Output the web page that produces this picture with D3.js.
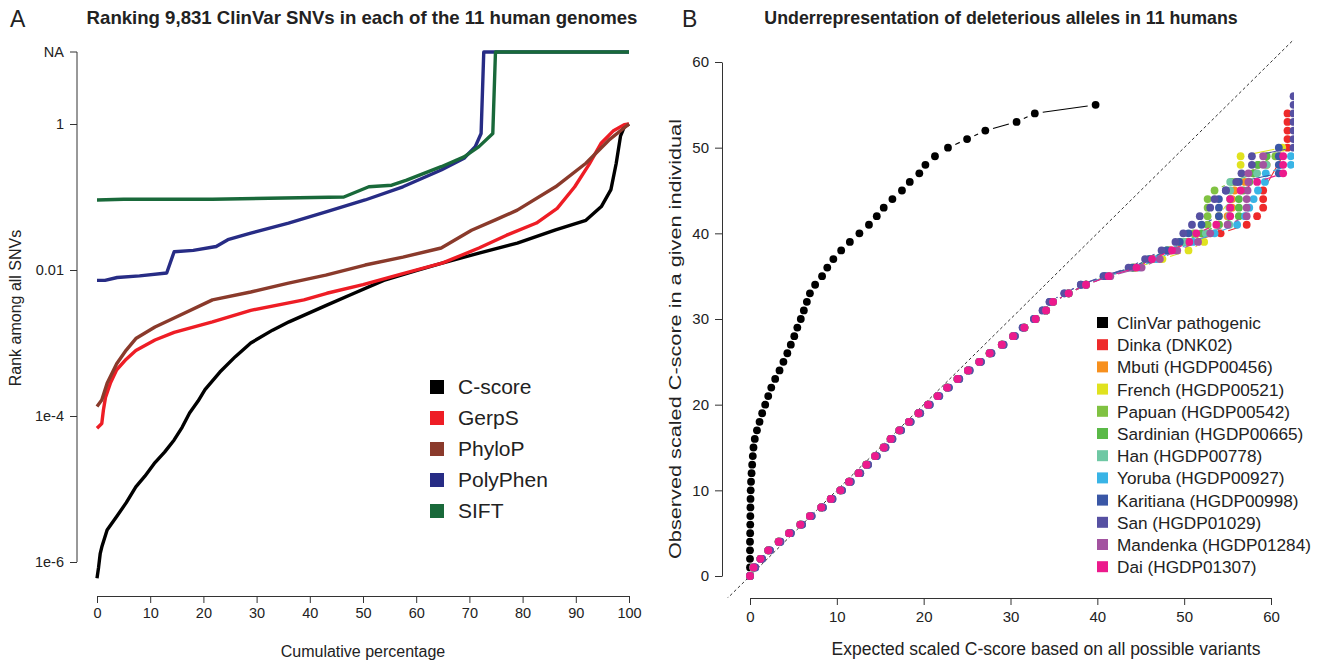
<!DOCTYPE html>
<html lang="en">
  <head>
    <meta charset="UTF-8" />
    <title>ClinVar SNV ranking and deleterious alleles</title>
    <script src="https://cdn.jsdelivr.net/npm/d3@7/dist/d3.min.js"></script>
    <style>
      body {
        margin: 0;
        background: #fff;
      }
      svg {
        font-family: "Liberation Sans", Arial, sans-serif;
      }
      .axis path,
      .axis line {
        stroke: #333;
      }
      .axis text {
        fill: #222;
      }
    </style>
  </head>
  <body>
    <svg width="1339" height="662"></svg>
    <script>
      // ---- panel A data: [cumulative percentage, rank] (null = NA)
      const cscore = [
        [0, 6.0e-7], [0.3, 8.5e-7], [0.6, 1.3e-6], [0.9, 1.6e-6], [1.9, 2.75e-6],
        [3.7, 4.2e-6], [5.5, 6.5e-6], [7.3, 1.07e-5], [9, 1.5e-5], [10.9, 2.3e-5],
        [12.7, 3.2e-5], [14.5, 4.7e-5], [16, 7.0e-5], [17.4, 1.1e-4], [19, 1.6e-4],
        [20.3, 2.3e-4], [23.1, 4.0e-4], [26, 6.5e-4], [28.9, 1.0e-3], [33, 1.5e-3],
        [36.1, 1.95e-3], [43.2, 3.3e-3], [48, 4.7e-3], [53.9, 7.2e-3], [60, 9.8e-3],
        [64.7, 1.23e-2], [71.8, 1.7e-2], [79, 2.34e-2], [86.2, 3.55e-2], [91.9, 4.8e-2],
        [94.8, 7.4e-2], [96.6, 0.126], [97.6, 0.29], [98.4, 0.68], [99.1, 0.91], [100, 1],
      ];
      const gerps = [
        [0, 6.8e-5], [0.9, 7.9e-5], [1.2, 1.2e-4], [1.6, 1.8e-4], [2.5, 2.8e-4],
        [3.7, 4.3e-4], [5.5, 6.0e-4], [7.3, 7.9e-4], [10.9, 1.1e-3], [14.5, 1.4e-3],
        [21.7, 1.95e-3], [28.9, 2.8e-3], [38.9, 3.9e-3], [43.2, 4.8e-3], [50, 6.3e-3],
        [57.5, 8.9e-3], [65, 1.25e-2], [71.8, 2.0e-2], [77, 3.0e-2], [82.6, 4.4e-2],
        [86.5, 7.0e-2], [89.8, 0.138], [92.5, 0.28], [94.8, 0.55], [97, 0.8],
        [99.1, 0.98], [100, 1],
      ];
      const phylop = [
        [0, 1.35e-4], [0.9, 1.66e-4], [1.9, 2.8e-4], [3.7, 5.2e-4], [5.5, 8.0e-4],
        [7.3, 1.15e-3], [10.9, 1.66e-3], [14.5, 2.2e-3], [21.7, 3.9e-3], [28.9, 5.0e-3],
        [36, 6.6e-3], [43, 8.5e-3], [50.4, 1.17e-2], [57.5, 1.5e-2], [64.7, 2.0e-2],
        [70.4, 3.5e-2], [75, 4.9e-2], [79, 6.6e-2], [86.2, 0.138], [91.9, 0.29],
        [96.2, 0.6], [100, 1],
      ];
      const polyphen = [
        [0, 7.2e-3], [1.5, 7.2e-3], [3.8, 7.9e-3], [8, 8.3e-3], [13.1, 9.1e-3],
        [14.5, 1.78e-2], [18.1, 1.86e-2], [22.4, 2.1e-2], [24.6, 2.6e-2], [28.9, 3.2e-2],
        [36, 4.4e-2], [43.2, 6.3e-2], [50.4, 9.1e-2], [57.5, 0.138], [64.7, 0.234],
        [69, 0.34], [71.1, 0.49], [72.2, 0.74], [72.7, null], [100, null],
      ];
      const sift = [
        [0, 0.091], [5, 0.093], [21.7, 0.093], [46.4, 0.1], [51.1, 0.138],
        [55.4, 0.145], [58.2, 0.17], [64.7, 0.26], [69, 0.355], [71.8, 0.49],
        [74.4, 0.74], [74.9, null], [100, null],
      ];
      const methodNames = ["C-score", "GerpS", "PhyloP", "PolyPhen", "SIFT"];
      const methodColors = ["#000000", "#ee1d25", "#8a3a2b", "#272c85", "#19693a"];
      const pctTicks = [0, 10, 20, 30, 40, 50, 60, 70, 80, 90, 100];
      const rankTicks = [1e-6, 1e-4, 0.01, 1];
      const rankTickLabels = ["1e-6", "1e-4", "0.01", "1"];

      // ---- panel B data
      const clinvarObserved = [
        1, 2, 3, 4, 5, 6, 7, 8, 9, 10, 11, 12, 13, 14, 15, 16, 17, 18, 19, 20,
        21, 22, 23, 24, 25, 26, 27, 28, 29, 30, 31, 32, 33, 34, 35, 36, 37, 38,
        39, 40, 41, 42, 43, 44, 45, 46, 47, 48, 49, 50, 51, 52, 53, 54, 55,
      ];
      const clinvarExpected = [
        0, 0, 0, 0, 0.02, 0.03, 0.04, 0.05, 0.06, 0.08, 0.12, 0.18, 0.25, 0.32,
        0.4, 0.55, 0.8, 1.1, 1.4, 1.75, 2.1, 2.45, 2.9, 3.4, 3.85, 4.3, 4.7, 5.1,
        5.45, 5.85, 6.2, 6.55, 6.9, 7.5, 8.3, 8.9, 9.6, 10.5, 11.5, 12.6, 13.7,
        14.6, 15.4, 16.4, 17.5, 18.4, 19.5, 20.2, 21.3, 22.8, 25.0, 27.1, 30.7,
        32.8, 39.8,
      ];
      // shared lower part (observed 0..34) of the individual curves
      const lowerObserved = [
        0, 1, 2, 3, 4, 5, 6, 7, 8, 9, 10, 11, 12, 13, 14, 15, 16, 17, 18, 19,
        20, 21, 22, 23, 24, 25, 26, 27, 28, 29, 30, 31, 32, 33, 34,
      ];
      const lowerExpected = [
        0, 0.4, 1.2, 2.1, 3.3, 4.5, 5.8, 6.9, 8.2, 9.3, 10.4, 11.4, 12.5, 13.4,
        14.4, 15.4, 16.2, 17.2, 18.3, 19.4, 20.5, 21.6, 22.7, 23.9, 25.1, 26.4,
        27.6, 29.0, 30.3, 31.6, 32.9, 34.1, 34.9, 36.7, 38.7,
      ];
      const lowerExpectedAlt = [
        0, 0.6, 1.4, 2.3, 3.5, 4.7, 6.0, 7.1, 8.4, 9.5, 10.6, 11.6, 12.7, 13.6,
        14.6, 15.6, 16.4, 17.4, 18.5, 19.6, 20.7, 21.8, 22.9, 24.1, 25.3, 26.6,
        27.8, 29.2, 30.5, 31.4, 32.7, 33.7, 34.5, 36.2, 38.1,
      ];
      // upper parts: [expected, observed]
      const dinkaUpper = [[41.2,35],[44.2,36],[46.4,37],[48.4,38],[50.4,39],[54.2,40],[57.2,41],[58.4,42],[59.1,43],[59.1,44],[59.1,45],[61.9,50],[61.9,51],[61.9,52],[61.9,53],[61.9,54]];
      const mbutiUpper = [[41.2,35],[44.3,36],[46.4,37],[48.5,38],[50.5,39],[52.5,40],[54.0,41],[55.0,42],[55.5,43],[55.5,44],[55.8,45],[57.0,46],[58.0,47],[59.5,48],[61.0,49]];
      const frenchUpper = [[41.0,35],[44.5,36],[47.5,37],[50.5,38],[52.3,39],[53.0,40],[54.0,42],[55.3,44],[56.0,46],[56.5,48],[56.5,49],[61.3,50]];
      const papuanUpper = [[41.0,35],[44.0,36],[46.0,37],[48.0,38],[49.5,39],[51.1,40],[52.7,41],[52.7,42],[52.7,43],[52.7,44],[53.5,45],[55.5,46],[58.0,47],[58.5,48],[60.5,49]];
      const sardinianUpper = [[41.1,35],[44.2,36],[46.2,37],[48.2,38],[50.0,39],[52.0,40],[54.0,41],[56.3,42],[56.3,43],[56.3,44],[56.8,45],[57.5,46],[58.0,47],[58.5,48],[59.5,49]];
      const hanUpper = [[41.2,35],[44.2,36],[46.0,37],[48.0,38],[50.0,39],[52.5,40],[55.2,41],[55.2,42],[55.2,43],[55.3,44],[55.3,45],[55.3,46],[58.4,47],[59.5,48]];
      const yorubaUpper = [[41.0,35],[44.8,36],[46.8,37],[49.0,38],[51.0,39],[53.5,40],[56.1,41],[57.0,42],[57.5,43],[58.0,44],[58.5,45],[59.3,46],[59.4,47],[62.3,48],[62.3,49]];
      const karitianaUpper = [[40.7,35],[44.0,36],[46.0,37],[48.0,38],[49.5,39],[50.5,40],[52.0,41],[54.0,42],[54.0,43],[54.0,44],[54.8,45],[56.3,46],[60.9,47],[60.9,48],[60.9,49],[60.9,50]];
      const sanUpper = [[40.8,35],[43.6,36],[45.5,37],[47.4,38],[49.0,39],[49.9,40],[50.9,41],[51.8,42],[53.0,43],[53.5,44],[54.8,45],[56.0,46],[56.6,47],[57.8,48],[57.8,49],[62.6,50],[62.6,51],[62.6,52],[62.6,53],[62.6,54],[62.6,55],[62.6,56]];
      const mandenkaUpper = [[41.5,35],[45.1,36],[47.2,37],[49.2,38],[51.6,39],[53.0,40],[55.0,41],[57.2,42],[57.2,43],[57.2,44],[57.3,45],[57.4,46],[57.4,47],[59.1,48],[59.1,49]];
      const daiUpper = [[41.3,35],[44.5,36],[46.3,37],[48.6,38],[50.6,39],[51.4,40],[53.7,41],[55.3,42],[55.3,43],[55.3,44],[56.5,45],[58.4,46],[61.4,47],[61.4,48],[61.4,49]];

      const individuals = [
        { name: "Dinka (DNK02)", color: "#ee2a2a", upper: dinkaUpper, alt: false },
        { name: "Mbuti (HGDP00456)", color: "#f7901e", upper: mbutiUpper, alt: false },
        { name: "French (HGDP00521)", color: "#e0e21f", upper: frenchUpper, alt: false },
        { name: "Papuan (HGDP00542)", color: "#80c242", upper: papuanUpper, alt: false },
        { name: "Sardinian (HGDP00665)", color: "#5ab947", upper: sardinianUpper, alt: false },
        { name: "Han (HGDP00778)", color: "#6fc8a4", upper: hanUpper, alt: false },
        { name: "Yoruba (HGDP00927)", color: "#39b4e6", upper: yorubaUpper, alt: false },
        { name: "Karitiana (HGDP00998)", color: "#3a57a6", upper: karitianaUpper, alt: true },
        { name: "San (HGDP01029)", color: "#5650a2", upper: sanUpper, alt: true },
        { name: "Mandenka (HGDP01284)", color: "#a353a0", upper: mandenkaUpper, alt: false },
        { name: "Dai (HGDP01307)", color: "#ec1a8c", upper: daiUpper, alt: false },
      ];
      const scoreTicks = [0, 10, 20, 30, 40, 50, 60];

      const svg = d3.select("svg");

      // ================= Panel A =================
      const xA = d3.scaleLinear().domain([0, 100]).range([97, 629]);
      const yA = d3.scaleLog().domain([1e-6, 1]).range([562, 124]);
      const naY = 52;
      const yPos = (d) => (d[1] === null ? naY : yA(d[1]));

      svg
        .append("g")
        .attr("class", "axis")
        .attr("transform", "translate(0,596)")
        .call(d3.axisBottom(xA).tickValues(pctTicks).tickSize(7).tickSizeOuter(0).tickPadding(5))
        .call((g) => g.selectAll("text").attr("font-size", 14.5));

      const yAxisA = svg
        .append("g")
        .attr("class", "axis")
        .attr("transform", "translate(77,0)")
        .call(
          d3
            .axisLeft(yA)
            .tickValues(rankTicks)
            .tickFormat((d, i) => rankTickLabels[i])
            .tickSize(7)
            .tickPadding(6)
        );
      yAxisA.select(".domain").remove();
      yAxisA.selectAll("text").attr("font-size", 14.5);
      yAxisA
        .append("line")
        .attr("x1", 0)
        .attr("x2", 0)
        .attr("y1", naY)
        .attr("y2", yA(1e-6))
        .attr("stroke", "#333");
      yAxisA
        .append("line")
        .attr("x1", -7)
        .attr("x2", 0)
        .attr("y1", naY)
        .attr("y2", naY)
        .attr("stroke", "#333");
      yAxisA
        .append("text")
        .attr("x", -13)
        .attr("y", naY)
        .attr("dy", "0.32em")
        .attr("text-anchor", "end")
        .attr("font-size", 14.5)
        .attr("fill", "#222")
        .text("NA");

      const lineA = d3
        .line()
        .x((d) => xA(d[0]))
        .y(yPos);

      const methodSeries = [cscore, gerps, phylop, polyphen, sift];
      svg
        .append("g")
        .selectAll("path")
        .data(methodSeries)
        .join("path")
        .attr("d", lineA)
        .attr("fill", "none")
        .attr("stroke", (d, i) => methodColors[i])
        .attr("stroke-width", 3.4)
        .attr("stroke-linejoin", "round");

      const legA = svg
        .append("g")
        .selectAll("g")
        .data(methodNames)
        .join("g")
        .attr("transform", (d, i) => `translate(430,${387 + i * 31})`);
      legA
        .append("rect")
        .attr("x", 0)
        .attr("y", -7)
        .attr("width", 14)
        .attr("height", 14)
        .attr("fill", (d, i) => methodColors[i]);
      legA
        .append("text")
        .attr("x", 28)
        .attr("dy", "0.35em")
        .attr("font-size", 21)
        .attr("fill", "#222")
        .text((d) => d);

      svg
        .append("text")
        .attr("x", 362)
        .attr("y", 24)
        .attr("text-anchor", "middle")
        .attr("font-size", 18.6)
        .attr("font-weight", "bold")
        .attr("fill", "#222")
        .text("Ranking 9,831 ClinVar SNVs in each of the 11 human genomes");
      svg.append("text").attr("x", 10).attr("y", 27).attr("font-size", 23).attr("fill", "#222").text("A");
      svg
        .append("text")
        .attr("transform", "translate(21,308) rotate(-90)")
        .attr("text-anchor", "middle")
        .attr("font-size", 16)
        .attr("fill", "#222")
        .text("Rank among all SNVs");
      svg
        .append("text")
        .attr("x", 363)
        .attr("y", 657)
        .attr("text-anchor", "middle")
        .attr("font-size", 16)
        .attr("fill", "#222")
        .text("Cumulative percentage");

      // ================= Panel B =================
      const xB = d3.scaleLinear().domain([0, 60]).range([750, 1271]);
      const yB = d3.scaleLinear().domain([0, 60]).range([576, 62]);

      svg
        .append("g")
        .attr("class", "axis")
        .attr("transform", "translate(0,598)")
        .call(d3.axisBottom(xB).tickValues(scoreTicks).tickSize(7).tickSizeOuter(0).tickPadding(6))
        .call((g) => g.selectAll("text").attr("font-size", 15));
      svg
        .append("g")
        .attr("class", "axis")
        .attr("transform", "translate(722,0)")
        .call(d3.axisLeft(yB).tickValues(scoreTicks).tickSize(7).tickSizeOuter(0).tickPadding(6))
        .call((g) => g.selectAll("text").attr("font-size", 15));

      svg
        .append("clipPath")
        .attr("id", "clipB")
        .append("rect")
        .attr("x", 722)
        .attr("y", 40)
        .attr("width", 1294 - 722)
        .attr("height", 598 - 40);

      const plotB = svg.append("g").attr("clip-path", "url(#clipB)");
      plotB
        .append("line")
        .attr("x1", xB(-5))
        .attr("y1", yB(-5))
        .attr("x2", xB(65))
        .attr("y2", yB(65))
        .attr("stroke", "#333")
        .attr("stroke-width", 1)
        .attr("stroke-dasharray", "3,2.5");

      // lines between points that stop short of each point, like R's type = "b"
      const gap = 8;
      function gappedSegments(pts) {
        const segs = [];
        for (let i = 0; i < pts.length - 1; i++) {
          const x1 = xB(pts[i][0]), y1 = yB(pts[i][1]);
          const x2 = xB(pts[i + 1][0]), y2 = yB(pts[i + 1][1]);
          const len = Math.hypot(x2 - x1, y2 - y1);
          if (len <= 2 * gap + 1) continue;
          const ux = (x2 - x1) / len, uy = (y2 - y1) / len;
          segs.push([x1 + ux * gap, y1 + uy * gap, x2 - ux * gap, y2 - uy * gap]);
        }
        return segs;
      }

      function drawSeries(g, pts, color) {
        g.selectAll("line")
          .data(gappedSegments(pts))
          .join("line")
          .attr("x1", (s) => s[0])
          .attr("y1", (s) => s[1])
          .attr("x2", (s) => s[2])
          .attr("y2", (s) => s[3])
          .attr("stroke", color)
          .attr("stroke-width", 1.1);
        g.selectAll("circle")
          .data(pts)
          .join("circle")
          .attr("cx", (d) => xB(d[0]))
          .attr("cy", (d) => yB(d[1]))
          .attr("r", 3.9)
          .attr("fill", color);
      }

      const clinvarPts = clinvarExpected.map((e, i) => [e, clinvarObserved[i]]);
      drawSeries(plotB.append("g"), clinvarPts, "#000");

      individuals.forEach((ind) => {
        const low = ind.alt ? lowerExpectedAlt : lowerExpected;
        const pts = low.map((e, i) => [e, lowerObserved[i]]).concat(ind.upper);
        drawSeries(plotB.append("g"), pts, ind.color);
      });

      const legendB = [{ name: "ClinVar pathogenic", color: "#000" }].concat(individuals);
      const legB = svg
        .append("g")
        .selectAll("g")
        .data(legendB)
        .join("g")
        .attr("transform", (d, i) => `translate(1097,${323 + i * 22.2})`);
      legB
        .append("rect")
        .attr("x", 0)
        .attr("y", -6)
        .attr("width", 11)
        .attr("height", 11)
        .attr("fill", (d) => d.color);
      legB
        .append("text")
        .attr("x", 20)
        .attr("dy", "0.35em")
        .attr("font-size", 17.2)
        .attr("fill", "#222")
        .text((d) => d.name);

      svg
        .append("text")
        .attr("x", 1001)
        .attr("y", 24)
        .attr("text-anchor", "middle")
        .attr("font-size", 17.8)
        .attr("font-weight", "bold")
        .attr("fill", "#222")
        .text("Underrepresentation of deleterious alleles in 11 humans");
      svg.append("text").attr("x", 682).attr("y", 27).attr("font-size", 23).attr("fill", "#222").text("B");
      svg
        .append("text")
        .attr("transform", "translate(681,339) rotate(-90)")
        .attr("text-anchor", "middle")
        .attr("font-size", 16)
        .attr("textLength", 440)
        .attr("lengthAdjust", "spacingAndGlyphs")
        .attr("fill", "#222")
        .text("Observed scaled C-score in a given individual");
      svg
        .append("text")
        .attr("x", 1046)
        .attr("y", 655)
        .attr("text-anchor", "middle")
        .attr("font-size", 17.5)
        .attr("fill", "#222")
        .text("Expected scaled C-score based on all possible variants");
    </script>
  </body>
</html>
